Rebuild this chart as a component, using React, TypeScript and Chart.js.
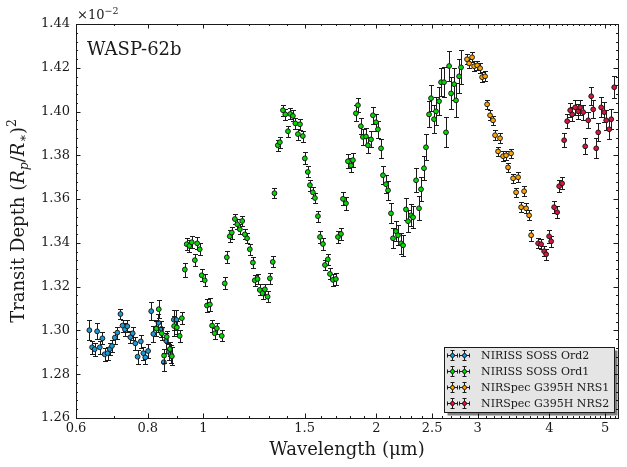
import { useEffect, useRef } from "react";
import { Chart, registerables } from "chart.js";

Chart.register(...registerables);

// NIRISS SOSS order 2
const ord2Wave = [0.633, 0.640, 0.6465, 0.653, 0.660, 0.667, 0.673, 0.681, 0.687, 0.693, 0.701, 0.708, 0.717, 0.723, 0.730, 0.737, 0.746, 0.753, 0.761, 0.768, 0.778, 0.786, 0.792, 0.801, 0.811, 0.818, 0.827, 0.835, 0.845, 0.853, 0.861, 0.870, 0.877, 0.888, 0.897];
const ord2Depth = [1.3001, 1.2923, 1.2914, 1.2996, 1.2923, 1.2964, 1.2891, 1.2896, 1.2915, 1.2929, 1.2967, 1.2990, 1.3075, 1.3022, 1.3005, 1.3019, 1.2969, 1.2987, 1.2941, 1.2880, 1.2950, 1.2896, 1.2877, 1.2906, 1.3088, 1.2984, 1.3010, 1.3035, 1.3007, 1.2855, 1.2953, 1.2902, 1.2892, 1.3049, 1.3048];
const ord2Err = [0.0046, 0.0030, 0.0030, 0.0036, 0.0030, 0.0028, 0.0030, 0.0030, 0.0027, 0.0027, 0.0027, 0.0027, 0.0025, 0.0027, 0.0030, 0.0027, 0.0027, 0.0030, 0.0030, 0.0032, 0.0030, 0.0030, 0.0030, 0.0032, 0.0040, 0.0036, 0.0036, 0.0040, 0.0036, 0.0040, 0.0036, 0.0036, 0.0040, 0.0046, 0.0046];

// NIRISS SOSS order 1
const ord1Wave = [0.828, 0.836, 0.846, 0.854, 0.863, 0.874, 0.881, 0.889, 0.899, 0.909, 0.917, 0.928, 0.935, 0.945, 0.954, 0.966, 0.975, 0.985, 0.993, 1.005, 1.014, 1.026, 1.035, 1.046, 1.055, 1.076, 1.089, 1.098, 1.111, 1.120, 1.134, 1.145, 1.157, 1.168, 1.180, 1.191, 1.204, 1.219, 1.228, 1.242, 1.253, 1.267, 1.279, 1.293, 1.305, 1.320, 1.329, 1.347, 1.358, 1.375, 1.388, 1.403, 1.416, 1.431, 1.445, 1.460, 1.472, 1.489, 1.501, 1.519, 1.532, 1.550, 1.563, 1.582, 1.595, 1.614, 1.627, 1.646, 1.660, 1.680, 1.700, 1.714, 1.735, 1.749, 1.770, 1.784, 1.806, 1.820, 1.842, 1.857, 1.879, 1.894, 1.918, 1.933, 1.957, 1.972, 1.996, 2.012, 2.037, 2.053, 2.078, 2.095, 2.120, 2.137, 2.163, 2.180, 2.207, 2.225, 2.251, 2.270, 2.297, 2.316, 2.344, 2.372, 2.391, 2.420, 2.439, 2.469, 2.489, 2.519, 2.539, 2.570, 2.591, 2.622, 2.643, 2.676, 2.697, 2.730, 2.751, 2.785, 2.807];
const ord1Depth = [1.3008, 1.3097, 1.2987, 1.2885, 1.2971, 1.2915, 1.2882, 1.3020, 1.3014, 1.2975, 1.3056, 1.3278, 1.3394, 1.3386, 1.3403, 1.3321, 1.3398, 1.3371, 1.3252, 1.3229, 1.3114, 1.3119, 1.3022, 1.2987, 1.3010, 1.2975, 1.3215, 1.3334, 1.3430, 1.3447, 1.3509, 1.3485, 1.3462, 1.3500, 1.3439, 1.3421, 1.3371, 1.3310, 1.3229, 1.3235, 1.3185, 1.3170, 1.3188, 1.3154, 1.3238, 1.3313, 1.3627, 1.3846, 1.3860, 1.4006, 1.3987, 1.3910, 1.3989, 1.3980, 1.3946, 1.3897, 1.3942, 1.3888, 1.3786, 1.3724, 1.3664, 1.3631, 1.3605, 1.3522, 1.3427, 1.3395, 1.3299, 1.3325, 1.3258, 1.3231, 1.3235, 1.3427, 1.3441, 1.3601, 1.3581, 1.3773, 1.3754, 1.3778, 1.3992, 1.4029, 1.3933, 1.3884, 1.3886, 1.3846, 1.3873, 1.3983, 1.3951, 1.3919, 1.3832, 1.3709, 1.3668, 1.3640, 1.3535, 1.3421, 1.3453, 1.3435, 1.3398, 1.3389, 1.3553, 1.3499, 1.3526, 1.3517, 1.3686, 1.3558, 1.3645, 1.3741, 1.3837, 1.3987, 1.4061, 1.3965, 1.4001, 1.4047, 1.4134, 1.4134, 1.3905, 1.4208, 1.4083, 1.4125, 1.4051, 1.4161, 1.4202];
const ord1Err = [0.0035, 0.0041, 0.0030, 0.0032, 0.0028, 0.0032, 0.0041, 0.0045, 0.0030, 0.0028, 0.0028, 0.0032, 0.0028, 0.0028, 0.0028, 0.0028, 0.0028, 0.0028, 0.0028, 0.0028, 0.0028, 0.0028, 0.0028, 0.0025, 0.0025, 0.0025, 0.0027, 0.0027, 0.0027, 0.0027, 0.0023, 0.0023, 0.0023, 0.0023, 0.0023, 0.0023, 0.0025, 0.0025, 0.0025, 0.0025, 0.0025, 0.0025, 0.0025, 0.0025, 0.0025, 0.0025, 0.0023, 0.0025, 0.0025, 0.0025, 0.0025, 0.0025, 0.0025, 0.0025, 0.0025, 0.0025, 0.0025, 0.0025, 0.0027, 0.0025, 0.0025, 0.0025, 0.0025, 0.0025, 0.0027, 0.0027, 0.0025, 0.0025, 0.0025, 0.0027, 0.0027, 0.0027, 0.0027, 0.0030, 0.0030, 0.0032, 0.0032, 0.0032, 0.0037, 0.0033, 0.0037, 0.0037, 0.0037, 0.0037, 0.0037, 0.0040, 0.0040, 0.0040, 0.0042, 0.0042, 0.0042, 0.0042, 0.0045, 0.0045, 0.0045, 0.0045, 0.0047, 0.0047, 0.0050, 0.0050, 0.0050, 0.0050, 0.0055, 0.0055, 0.0055, 0.0055, 0.0059, 0.0059, 0.0059, 0.0064, 0.0064, 0.0064, 0.0064, 0.0068, 0.0068, 0.0068, 0.0073, 0.0073, 0.0078, 0.0078, 0.0078];

// NIRSpec G395H NRS1
const nrs1Wave = [2.875, 2.899, 2.934, 2.958, 2.994, 3.030, 3.054, 3.091, 3.116, 3.153, 3.191, 3.217, 3.256, 3.282, 3.322, 3.362, 3.389, 3.430, 3.458, 3.500, 3.528, 3.571, 3.614, 3.643, 3.687, 3.717];
const nrs1Depth = [1.4239, 1.4220, 1.4248, 1.4207, 1.4211, 1.4198, 1.4157, 1.4161, 1.4033, 1.3983, 1.3960, 1.3892, 1.3818, 1.3878, 1.3796, 1.3800, 1.3745, 1.3809, 1.3695, 1.3631, 1.3700, 1.3563, 1.3636, 1.3558, 1.3526, 1.3435];
const nrs1Err = [0.0022, 0.0022, 0.0022, 0.0022, 0.0022, 0.0022, 0.0022, 0.0022, 0.0022, 0.0022, 0.0020, 0.0022, 0.0020, 0.0022, 0.0022, 0.0022, 0.0022, 0.0022, 0.0022, 0.0022, 0.0022, 0.0022, 0.0022, 0.0022, 0.0022, 0.0025];

// NIRSpec G395H NRS2
const nrs2Wave = [3.823, 3.869, 3.916, 3.948, 3.995, 4.028, 4.076, 4.126, 4.159, 4.209, 4.243, 4.295, 4.347, 4.382, 4.435, 4.489, 4.525, 4.580, 4.617, 4.673, 4.729, 4.767, 4.825, 4.864, 4.922, 4.982, 5.022, 5.083, 5.124, 5.186];
const nrs2Depth = [1.3398, 1.3394, 1.3362, 1.3348, 1.3430, 1.3407, 1.3563, 1.3540, 1.3659, 1.3672, 1.3869, 1.3956, 1.4006, 1.3987, 1.4019, 1.4001, 1.4019, 1.3997, 1.3841, 1.3960, 1.4070, 1.4010, 1.3832, 1.3905, 1.4019, 1.3997, 1.3960, 1.3919, 1.3965, 1.4111];
const nrs2Err = [0.0023, 0.0023, 0.0023, 0.0025, 0.0030, 0.0025, 0.0027, 0.0027, 0.0027, 0.0027, 0.0032, 0.0032, 0.0032, 0.0032, 0.0034, 0.0034, 0.0034, 0.0034, 0.0037, 0.0037, 0.0041, 0.0041, 0.0046, 0.0041, 0.0046, 0.0046, 0.0046, 0.0046, 0.0046, 0.0050];

const seriesNames = ["NIRISS SOSS Ord2", "NIRISS SOSS Ord1", "NIRSpec G395H NRS1", "NIRSpec G395H NRS2"];
const seriesColors = ["#1b9ad8", "#00dc00", "#ffa500", "#dc143c"];

const xTickValues = [0.6, 0.8, 1, 1.5, 2, 2.5, 3, 4, 5];
const xTickLabels = ["0.6", "0.8", "1", "1.5", "2", "2.5", "3", "4", "5"];
const yTickValues = [1.26, 1.28, 1.3, 1.32, 1.34, 1.36, 1.38, 1.4, 1.42, 1.44];
const yTickLabels = ["1.26", "1.28", "1.30", "1.32", "1.34", "1.36", "1.38", "1.40", "1.42", "1.44"];

const X_MIN = 0.6;
const X_MAX = 5.265;
const Y_MIN = 1.26;
const Y_MAX = 1.44;

const SERIF = '"DejaVu Serif", "Liberation Serif", serif';
const INK = "#1a1a1a";

type Part = { text: string; size: number; italic?: boolean; dy?: number };

function drawParts(ctx: CanvasRenderingContext2D, parts: Part[], cx: number, y: number, align: "center" | "left") {
  const widths = parts.map((p) => {
    ctx.font = `${p.italic ? "italic " : ""}${p.size}px ${SERIF}`;
    return ctx.measureText(p.text).width;
  });
  const total = widths.reduce((a, b) => a + b, 0);
  let x = align === "center" ? cx - total / 2 : cx;
  ctx.textAlign = "left";
  ctx.textBaseline = "alphabetic";
  parts.forEach((p, i) => {
    ctx.font = `${p.italic ? "italic " : ""}${p.size}px ${SERIF}`;
    ctx.fillText(p.text, x, y + (p.dy || 0));
    x += widths[i];
  });
}

function drawErrMarker(ctx: CanvasRenderingContext2D, x: number, y: number, color: string) {
  ctx.strokeStyle = INK;
  ctx.lineWidth = 1;
  ctx.beginPath();
  ctx.moveTo(x, y - 5);
  ctx.lineTo(x, y + 5);
  ctx.moveTo(x - 2, y - 5);
  ctx.lineTo(x + 2, y - 5);
  ctx.moveTo(x - 2, y + 5);
  ctx.lineTo(x + 2, y + 5);
  ctx.moveTo(x - 5, y);
  ctx.lineTo(x + 5, y);
  ctx.moveTo(x - 5, y - 2);
  ctx.lineTo(x - 5, y + 2);
  ctx.moveTo(x + 5, y - 2);
  ctx.lineTo(x + 5, y + 2);
  ctx.stroke();
  ctx.beginPath();
  ctx.arc(x, y, 2, 0, Math.PI * 2);
  ctx.fillStyle = color;
  ctx.fill();
  ctx.strokeStyle = INK;
  ctx.stroke();
}

// Vertical error bars with caps, drawn just before each dataset's markers.
const errorBarPlugin = {
  id: "errorBars",
  beforeDatasetDraw(chart: any, args: any) {
    const { ctx, chartArea, scales } = chart;
    const ds = chart.data.datasets[args.index];
    const errs: number[] = ds.errors || [];
    ctx.save();
    ctx.beginPath();
    ctx.rect(chartArea.left, chartArea.top, chartArea.right - chartArea.left, chartArea.bottom - chartArea.top);
    ctx.clip();
    ctx.strokeStyle = INK;
    ctx.lineWidth = 1;
    ctx.beginPath();
    ds.data.forEach((p: { x: number; y: number }, i: number) => {
      const px = Math.round(scales.x.getPixelForValue(p.x)) + 0.5;
      const top = Math.round(scales.y.getPixelForValue(p.y + errs[i])) + 0.5;
      const bot = Math.round(scales.y.getPixelForValue(p.y - errs[i])) + 0.5;
      ctx.moveTo(px, top);
      ctx.lineTo(px, bot);
      ctx.moveTo(px - 2.5, top);
      ctx.lineTo(px + 2.5, top);
      ctx.moveTo(px - 2.5, bot);
      ctx.lineTo(px + 2.5, bot);
    });
    ctx.stroke();
    ctx.restore();
  },
};

// Frame, inward ticks, tick labels, axis titles, annotation and legend.
const framePlugin = {
  id: "frame",
  afterDraw(chart: any) {
    const { ctx, chartArea, scales } = chart;
    const { left, right, top, bottom } = chartArea;
    ctx.save();
    ctx.strokeStyle = INK;
    ctx.fillStyle = INK;
    ctx.lineWidth = 1;

    // ticks
    const xMinor: number[] = [];
    for (let k = 6; k <= 52; k++) xMinor.push(k / 10);
    ctx.beginPath();
    xMinor.forEach((v) => {
      const px = Math.round(scales.x.getPixelForValue(v)) + 0.5;
      if (px < left || px > right) return;
      ctx.moveTo(px, bottom);
      ctx.lineTo(px, bottom - 2);
      ctx.moveTo(px, top);
      ctx.lineTo(px, top + 2);
    });
    xTickValues.forEach((v) => {
      const px = Math.round(scales.x.getPixelForValue(v)) + 0.5;
      ctx.moveTo(px, bottom);
      ctx.lineTo(px, bottom - 4.5);
      ctx.moveTo(px, top);
      ctx.lineTo(px, top + 4.5);
    });
    for (let k = 0; k <= 45; k++) {
      const v = Y_MIN + k * 0.004;
      const py = Math.round(scales.y.getPixelForValue(v)) + 0.5;
      ctx.moveTo(left, py);
      ctx.lineTo(left + 2, py);
      ctx.moveTo(right, py);
      ctx.lineTo(right - 2, py);
    }
    yTickValues.forEach((v) => {
      const py = Math.round(scales.y.getPixelForValue(v)) + 0.5;
      ctx.moveTo(left, py);
      ctx.lineTo(left + 4.5, py);
      ctx.moveTo(right, py);
      ctx.lineTo(right - 4.5, py);
    });
    ctx.stroke();

    // frame
    ctx.strokeRect(Math.round(left) + 0.5, Math.round(top) + 0.5, Math.round(right - left), Math.round(bottom - top));

    // tick labels
    ctx.font = `13px ${SERIF}`;
    ctx.textAlign = "center";
    ctx.textBaseline = "top";
    xTickValues.forEach((v, i) => {
      ctx.fillText(xTickLabels[i], scales.x.getPixelForValue(v), bottom + 4);
    });
    ctx.textAlign = "right";
    ctx.textBaseline = "middle";
    yTickValues.forEach((v, i) => {
      ctx.fillText(yTickLabels[i], left - 6, scales.y.getPixelForValue(v));
    });

    // offset text
    drawParts(ctx, [
      { text: "×10", size: 13 },
      { text: "−2", size: 9.5, dy: -5 },
    ], left + 1, top - 5, "left");

    // x-axis title
    ctx.font = `18px ${SERIF}`;
    ctx.textAlign = "center";
    ctx.textBaseline = "alphabetic";
    ctx.fillText("Wavelength (μm)", (left + right) / 2, 455);

    // y-axis title
    ctx.save();
    ctx.translate(24, (top + bottom) / 2);
    ctx.rotate(-Math.PI / 2);
    drawParts(ctx, [
      { text: "Transit Depth ", size: 18 },
      { text: "(", size: 18 },
      { text: "R", size: 18, italic: true },
      { text: "p", size: 12.5, italic: true, dy: 4 },
      { text: "/", size: 18 },
      { text: "R", size: 18, italic: true },
      { text: "∗", size: 12.5, dy: 3 },
      { text: ")", size: 18 },
      { text: "2", size: 12.5, dy: -8 },
    ], 0, 0, "center");
    ctx.restore();

    // planet name
    ctx.font = `18px ${SERIF}`;
    ctx.textAlign = "left";
    ctx.textBaseline = "alphabetic";
    ctx.fillText("WASP-62b", 87, 55);

    // legend
    const lx = 444.5, ly = 347.5, lw = 170, lh = 65;
    ctx.fillStyle = "rgba(0,0,0,0.5)";
    ctx.fillRect(lx + 3, ly + 3, lw, lh);
    ctx.fillStyle = "#e5e5e5";
    ctx.fillRect(lx, ly, lw, lh);
    ctx.strokeStyle = INK;
    ctx.strokeRect(lx, ly, lw, lh);
    seriesNames.forEach((name, i) => {
      const ry = 355.5 + i * 16;
      drawErrMarker(ctx, 452.5, ry, seriesColors[i]);
      drawErrMarker(ctx, 464.5, ry, seriesColors[i]);
      ctx.fillStyle = INK;
      ctx.font = `11px ${SERIF}`;
      ctx.textAlign = "left";
      ctx.textBaseline = "middle";
      ctx.fillText(name, 481, ry + 0.5);
    });

    ctx.restore();
  },
};

function points(xs: number[], ys: number[]) {
  return xs.map((x, i) => ({ x, y: ys[i] }));
}

export default function App() {
  const canvasRef = useRef<HTMLCanvasElement | null>(null);

  useEffect(() => {
    const canvas = canvasRef.current;
    if (!canvas) return;
    const groups = [
      { wave: ord2Wave, depth: ord2Depth, err: ord2Err },
      { wave: ord1Wave, depth: ord1Depth, err: ord1Err },
      { wave: nrs1Wave, depth: nrs1Depth, err: nrs1Err },
      { wave: nrs2Wave, depth: nrs2Depth, err: nrs2Err },
    ];
    const chart = new Chart(canvas, {
      type: "scatter",
      data: {
        datasets: groups.map((g, i) => ({
          label: seriesNames[i],
          data: points(g.wave, g.depth),
          errors: g.err,
          order: 4 - i,
          backgroundColor: seriesColors[i],
          borderColor: INK,
          borderWidth: 1,
          pointRadius: 2.4,
          pointHoverRadius: 2.4,
        })) as any,
      },
      options: {
        responsive: false,
        animation: false,
        layout: { padding: { left: 76, top: 24, right: 9, bottom: 49 } },
        scales: {
          x: { type: "logarithmic", min: X_MIN, max: X_MAX, display: false },
          y: { type: "linear", min: Y_MIN, max: Y_MAX, display: false },
        },
        plugins: {
          legend: { display: false },
          tooltip: { enabled: false },
        },
        events: [],
      },
      plugins: [errorBarPlugin, framePlugin],
    });
    return () => chart.destroy();
  }, []);

  return (
    <div style={{ position: "absolute", left: 0, top: 0, width: 627, height: 467, background: "#fff" }}>
      <canvas ref={canvasRef} width={627} height={467} />
    </div>
  );
}
